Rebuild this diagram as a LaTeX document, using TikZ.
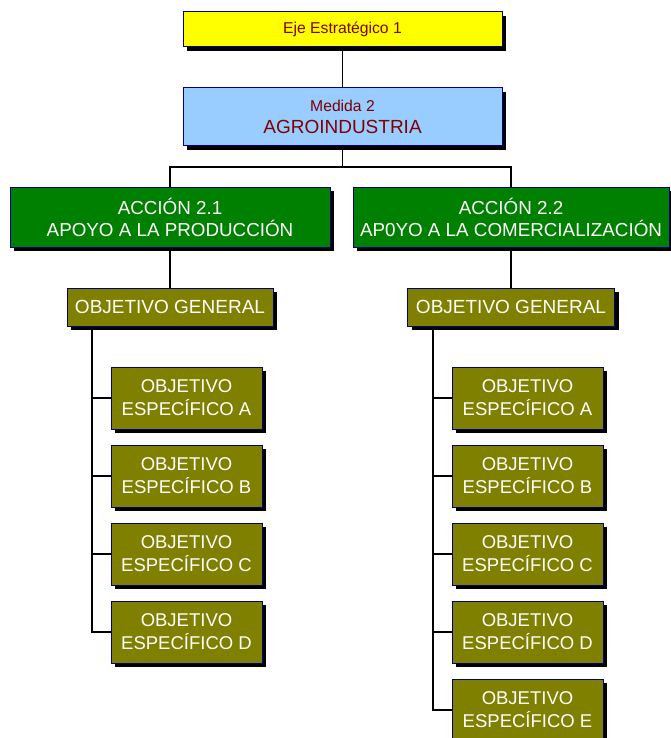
\documentclass[tikz,border=0pt]{standalone}
\usepackage{fontspec}
\setmainfont{Liberation Sans}
\usetikzlibrary{shadows,backgrounds}

\definecolor{ejeyellow}{HTML}{FFFF00}
\definecolor{medblue}{HTML}{99CCFF}
\definecolor{accgreen}{HTML}{008000}
\definecolor{objolive}{HTML}{808000}
\definecolor{boxnavy}{HTML}{000080}
\definecolor{txtred}{HTML}{800000}

\tikzset{
	box/.style={rectangle, draw=boxnavy, line width=1pt, inner sep=0pt, align=center,
		drop shadow={shadow xshift=4pt, shadow yshift=-4pt, fill=black, opacity=1}},
	ejebox/.style={box, fill=ejeyellow, text=txtred, minimum width=319pt, minimum height=35pt,
		font=\fontsize{15.7}{19}\selectfont},
	medbox/.style={box, fill=medblue, text=txtred, minimum width=319pt, minimum height=58pt,
		font=\fontsize{19}{22}\selectfont},
	accbox/.style={box, fill=accgreen, text=white, minimum height=60pt,
		font=\fontsize{18.8}{22}\selectfont},
	genbox/.style={box, fill=objolive, text=white, minimum height=38pt,
		font=\fontsize{19}{22}\selectfont},
	espbox/.style={box, fill=objolive, text=white, minimum width=151pt, minimum height=62pt,
		font=\fontsize{18.5}{23}\selectfont},
	link/.style={line width=1.3pt, black}
}

\begin{document}
\begin{tikzpicture}[x=1pt, y=-1pt]
	\useasboundingbox (0,0) rectangle (670,738);

	% upper levels
	\node[ejebox] (eje) at (342.5,29.5) {Eje Estratégico 1};
	\node[medbox] (medida) at (342.5,117) {{\fontsize{15.7}{22}\selectfont Medida 2}\\AGROINDUSTRIA};

	\node[accbox, minimum width=320pt] (acc1) at (170,217) {ACCIÓN 2.1\\APOYO A LA PRODUCCIÓN};
	\node[accbox, minimum width=316pt] (acc2) at (511,217) {ACCIÓN 2.2\\AP0YO A LA COMERCIALIZACIÓN};

	\node[genbox, minimum width=206pt] (gen1) at (170,307) {OBJETIVO GENERAL};
	\node[genbox, minimum width=207pt] (gen2) at (511,307) {OBJETIVO GENERAL};

	% left column
	\node[espbox] (izqA) at (186.5,398) {OBJETIVO\\ESPECÍFICO A};
	\node[espbox] (izqB) at (186.5,476) {OBJETIVO\\ESPECÍFICO B};
	\node[espbox] (izqC) at (186.5,554) {OBJETIVO\\ESPECÍFICO C};
	\node[espbox] (izqD) at (186.5,632) {OBJETIVO\\ESPECÍFICO D};

	% right column
	\node[espbox] (derA) at (527.5,398) {OBJETIVO\\ESPECÍFICO A};
	\node[espbox] (derB) at (527.5,476) {OBJETIVO\\ESPECÍFICO B};
	\node[espbox] (derC) at (527.5,554) {OBJETIVO\\ESPECÍFICO C};
	\node[espbox] (derD) at (527.5,632) {OBJETIVO\\ESPECÍFICO D};
	\node[espbox] (derE) at (527.5,710) {OBJETIVO\\ESPECÍFICO E};

	% connectors, behind the boxes
	\coordinate (split) at (342.5,167);
	\coordinate (tronco1) at (92,326);
	\coordinate (tronco2) at (433,326);

	\begin{pgfonlayer}{background}
	\draw[link] (eje.south) -- (medida.north);
	\draw[link] (medida.south) -- (split);
	\draw[link] (split) -| (acc1.north);
	\draw[link] (split) -| (acc2.north);
	\draw[link] (acc1.south) -- (gen1.north);
	\draw[link] (acc2.south) -- (gen2.north);

	\draw[link] (tronco1) |- (izqA.west);
	\draw[link] (tronco1) |- (izqB.west);
	\draw[link] (tronco1) |- (izqC.west);
	\draw[link] (tronco1) |- (izqD.west);

	\draw[link] (tronco2) |- (derA.west);
	\draw[link] (tronco2) |- (derB.west);
	\draw[link] (tronco2) |- (derC.west);
	\draw[link] (tronco2) |- (derD.west);
	\draw[link] (tronco2) |- (derE.west);
	\end{pgfonlayer}
\end{tikzpicture}
\end{document}
